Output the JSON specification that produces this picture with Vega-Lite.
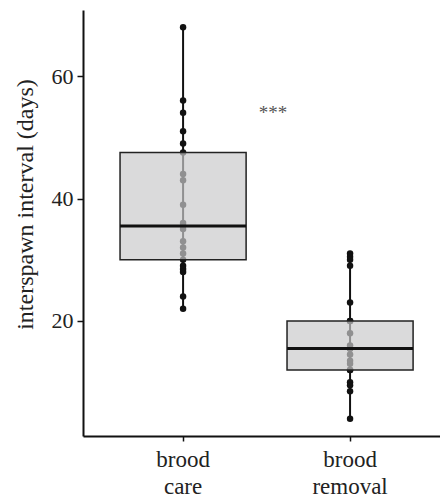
{
  "$schema": "https://vega.github.io/schema/vega-lite/v6.json",
  "width": 357,
  "height": 426,
  "autosize": {"type": "none"},
  "padding": {"left": 83, "top": 10, "right": 0, "bottom": 64},
  "background": "white",
  "config": {
    "view": {"stroke": null},
    "font": "Liberation Serif",
    "axis": {
      "grid": false,
      "domainColor": "#111",
      "domainWidth": 2,
      "tickColor": "#111",
      "tickWidth": 1.5,
      "labelColor": "#222",
      "titleColor": "#222",
      "labelFont": "Liberation Serif",
      "titleFont": "Liberation Serif",
      "titleFontWeight": "normal"
    }
  },
  "data": {
    "values": [
      {"treatment": "brood care", "interval": 68},
      {"treatment": "brood care", "interval": 56},
      {"treatment": "brood care", "interval": 54},
      {"treatment": "brood care", "interval": 51},
      {"treatment": "brood care", "interval": 49},
      {"treatment": "brood care", "interval": 47.5},
      {"treatment": "brood care", "interval": 44},
      {"treatment": "brood care", "interval": 43},
      {"treatment": "brood care", "interval": 39},
      {"treatment": "brood care", "interval": 36},
      {"treatment": "brood care", "interval": 35.5},
      {"treatment": "brood care", "interval": 35},
      {"treatment": "brood care", "interval": 33},
      {"treatment": "brood care", "interval": 32},
      {"treatment": "brood care", "interval": 31},
      {"treatment": "brood care", "interval": 30},
      {"treatment": "brood care", "interval": 29},
      {"treatment": "brood care", "interval": 28.5},
      {"treatment": "brood care", "interval": 28},
      {"treatment": "brood care", "interval": 24},
      {"treatment": "brood care", "interval": 22},
      {"treatment": "brood removal", "interval": 31},
      {"treatment": "brood removal", "interval": 30.5},
      {"treatment": "brood removal", "interval": 30},
      {"treatment": "brood removal", "interval": 29},
      {"treatment": "brood removal", "interval": 23},
      {"treatment": "brood removal", "interval": 20},
      {"treatment": "brood removal", "interval": 20},
      {"treatment": "brood removal", "interval": 18},
      {"treatment": "brood removal", "interval": 16},
      {"treatment": "brood removal", "interval": 15.5},
      {"treatment": "brood removal", "interval": 15.5},
      {"treatment": "brood removal", "interval": 15.5},
      {"treatment": "brood removal", "interval": 14.5},
      {"treatment": "brood removal", "interval": 13.5},
      {"treatment": "brood removal", "interval": 13},
      {"treatment": "brood removal", "interval": 12},
      {"treatment": "brood removal", "interval": 12},
      {"treatment": "brood removal", "interval": 10},
      {"treatment": "brood removal", "interval": 9.5},
      {"treatment": "brood removal", "interval": 8.5},
      {"treatment": "brood removal", "interval": 4}
    ]
  },
  "encoding": {
    "x": {
      "field": "treatment",
      "type": "nominal",
      "sort": ["brood care", "brood removal"],
      "scale": {"paddingInner": 0, "paddingOuter": 0.069, "align": 0.72},
      "axis": {
        "title": null,
        "labelAngle": 0,
        "labelExpr": "split(datum.label, ' ')",
        "labelFontSize": 23,
        "labelLineHeight": 27,
        "labelPadding": 7,
        "tickSize": 5
      }
    }
  },
  "layer": [
    {
      "mark": {"type": "rule", "color": "#111", "strokeWidth": 2},
      "encoding": {
        "y": {
          "aggregate": "min",
          "field": "interval",
          "type": "quantitative",
          "scale": {"domain": [1.2, 70.8], "nice": false, "zero": false},
          "axis": {
            "title": "interspawn interval (days)",
            "values": [20, 40, 60],
            "labelFontSize": 22,
            "titleFontSize": 24,
            "tickSize": 6,
            "labelPadding": 4,
            "titlePadding": 14,
            "titleY": 194
          }
        },
        "y2": {"aggregate": "max", "field": "interval"}
      }
    },
    {
      "mark": {"type": "circle", "size": 42, "color": "#111", "opacity": 1},
      "encoding": {"y": {"field": "interval", "type": "quantitative"}}
    },
    {
      "mark": {
        "type": "bar",
        "width": {"band": 0.755},
        "fill": "#c9c9cb",
        "fillOpacity": 0.69,
        "stroke": "#222",
        "strokeWidth": 1.5
      },
      "encoding": {
        "y": {"aggregate": "q1", "field": "interval", "type": "quantitative"},
        "y2": {"aggregate": "q3", "field": "interval"}
      }
    },
    {
      "mark": {"type": "tick", "size": 126, "thickness": 3, "color": "#111", "opacity": 1},
      "encoding": {
        "y": {"aggregate": "median", "field": "interval", "type": "quantitative"}
      }
    },
    {
      "data": {"values": [{"treatment": "brood care", "interval": 54, "label": "***"}]},
      "mark": {"type": "text", "dx": 90, "fontSize": 19, "color": "#555", "font": "Liberation Serif"},
      "encoding": {
        "y": {"field": "interval", "type": "quantitative"},
        "text": {"field": "label"}
      }
    }
  ]
}
